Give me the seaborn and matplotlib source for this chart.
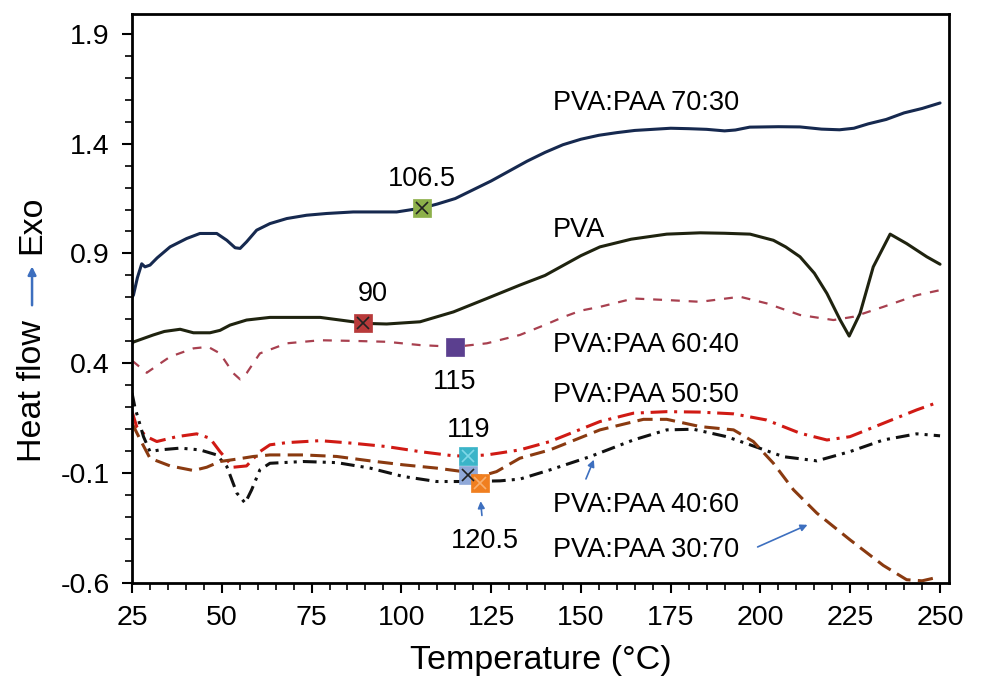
import matplotlib
matplotlib.use("Agg")
import matplotlib.pyplot as plt
import seaborn as sns
import pandas as pd
from matplotlib.ticker import MultipleLocator

# ---------------- data ----------------
x_7030 = [25, 25.4, 26.5, 27.7, 28.6, 30, 32, 35.6, 40.2, 43.9, 48.6, 51.4, 53.7, 55.1, 56.9, 59.7, 63.4, 68.1,
          73.6, 79.2, 86.6, 98.7, 105.8, 110, 115, 120, 125, 130, 135, 140, 145, 150, 155, 160, 165, 170, 175,
          180, 185, 190, 193, 197, 205, 211, 217, 222, 226, 230, 235, 240, 245, 250]
y_7030 = [0.70, 0.711, 0.79, 0.853, 0.839, 0.847, 0.88, 0.93, 0.968, 0.991, 0.991, 0.960, 0.926, 0.923, 0.953,
          1.006, 1.036, 1.059, 1.074, 1.082, 1.089, 1.089, 1.107, 1.125, 1.15, 1.19, 1.23, 1.275, 1.32, 1.36,
          1.395, 1.42, 1.438, 1.45, 1.46, 1.465, 1.47, 1.468, 1.465, 1.458, 1.462, 1.475, 1.477, 1.476, 1.466,
          1.463, 1.47, 1.49, 1.51, 1.54, 1.56, 1.585]

x_pva = [25, 25.4, 30.9, 34, 38.4, 42.1, 46.7, 49.5, 52.3, 56.9, 63.4, 77.4, 86.6, 89.3, 95.9, 105.2, 114.5,
         123.8, 133, 140, 145, 150, 155.3, 164, 173.9, 183.2, 190, 197.1, 203.6, 207, 211, 215, 218.5, 222.2,
         224.7, 227.7, 231.4, 236.1, 240.7, 246.3, 250]
y_pva = [0.49, 0.497, 0.529, 0.545, 0.555, 0.539, 0.539, 0.55, 0.574, 0.597, 0.609, 0.609, 0.589, 0.582, 0.579,
         0.589, 0.634, 0.695, 0.756, 0.80, 0.845, 0.89, 0.930, 0.965, 0.988, 0.994, 0.992, 0.988, 0.96, 0.93,
         0.885, 0.81, 0.718, 0.597, 0.524, 0.626, 0.839, 0.988, 0.945, 0.885, 0.851]

x_6040 = [25, 25.4, 29.1, 32, 35.6, 42.1, 46.2, 49.5, 53.2, 55.1, 56.9, 60.6, 68.1, 77.4, 86.6, 95.9, 105.2,
          115, 123.8, 133, 140, 145, 150, 155.3, 164.6, 173.9, 183.2, 194.3, 201.7, 211, 220.3, 225.9, 234.2,
          243.5, 250]
y_6040 = [0.41, 0.407, 0.357, 0.39, 0.43, 0.468, 0.475, 0.445, 0.355, 0.327, 0.355, 0.445, 0.491, 0.505, 0.502,
          0.498, 0.483, 0.475, 0.491, 0.529, 0.575, 0.61, 0.64, 0.657, 0.695, 0.688, 0.68, 0.703, 0.673, 0.62,
          0.597, 0.612, 0.657, 0.71, 0.733]

x_5050 = [25, 26.3, 29.1, 31.9, 37.4, 43, 46.7, 49.5, 53.2, 56.9, 60.6, 63.4, 68.1, 77.4, 86.6, 95.9, 105.2,
          114.5, 118.6, 123.8, 127.5, 133, 141.4, 155.3, 164.6, 173.9, 183, 192.5, 201.7, 211, 218.5, 224.9,
          234.2, 243.5, 249]
y_5050 = [0.18, 0.112, 0.066, 0.044, 0.066, 0.079, 0.059, -0.002, -0.073, -0.067, -0.002, 0.029, 0.039, 0.048,
          0.036, 0.021, -0.002, -0.021, -0.022, -0.017, -0.008, 0.006, 0.044, 0.135, 0.173, 0.18, 0.178, 0.17,
          0.142, 0.082, 0.051, 0.066, 0.127, 0.188, 0.22]

x_4060 = [25, 25.8, 28.2, 30, 32.8, 38.4, 43.9, 48.6, 51.4, 54.2, 56.5, 58.3, 60.6, 63.4, 72.7, 82, 91.3, 100.5,
          109.8, 118.6, 127.5, 133, 141.4, 152.5, 164.6, 173.9, 181.3, 190.6, 197.1, 206.4, 215.7, 224.9, 234.2,
          243.5, 250]
y_4060 = [0.265, 0.2, 0.066, -0.002, 0.006, 0.014, 0.006, -0.017, -0.07, -0.191, -0.236, -0.176, -0.085, -0.055,
          -0.047, -0.052, -0.077, -0.115, -0.138, -0.138, -0.135, -0.127, -0.085, -0.025, 0.051, 0.097, 0.1,
          0.066, 0.029, -0.025, -0.044, -0.002, 0.051, 0.079, 0.07]

x_3070 = [25, 27.3, 30, 35.6, 42.1, 45.8, 49.5, 54.2, 58.8, 63.4, 72.7, 82, 91.3, 100.5, 109.8, 117.2, 121.9,
          126.5, 133, 141.4, 155.3, 167.4, 173.9, 183.2, 192.5, 198, 203.6, 209.2, 215.7, 224.9, 234.2, 240.7,
          245, 249]
y_3070 = [0.127, 0.052, -0.032, -0.067, -0.088, -0.073, -0.047, -0.036, -0.024, -0.017, -0.017, -0.024, -0.044,
          -0.062, -0.077, -0.093, -0.115, -0.093, -0.032, 0.006, 0.097, 0.145, 0.145, 0.112, 0.097, 0.044, -0.055,
          -0.176, -0.282, -0.403, -0.52, -0.585, -0.59, -0.575]

series_labels = ["PVA:PAA 70:30", "PVA", "PVA:PAA 60:40", "PVA:PAA 50:50", "PVA:PAA 40:60", "PVA:PAA 30:70"]
label_y = [1.583, 1.005, 0.483, 0.256, -0.244, -0.449]

# transition-point markers
mark_x = [105.8, 89.3, 115.0, 118.6, 118.6, 121.8]
mark_y = [1.107, 0.582, 0.475, -0.02, -0.11, -0.145]
mark_text = ["106.5", "90", "115", "119", "", "120.5"]
mark_text_x = [105.8, 92.1, 114.7, 118.8, None, 123.3]
mark_text_y = [1.238, 0.717, 0.315, 0.097, None, -0.408]

x_ticks = [25, 50, 75, 100, 125, 150, 175, 200, 225, 250]
y_ticks = [-0.6, -0.1, 0.4, 0.9, 1.4, 1.9]

# ---------------- plot ----------------
sns.set_theme(style="white")
plt.rcParams["font.family"] = ["Liberation Sans", "DejaVu Sans"]
plt.rcParams["text.color"] = "black"

fig = plt.figure(figsize=(9.86, 6.83), dpi=100)
ax = fig.add_axes([0.1339, 0.1464, 0.8286, 0.8331])

styles = [
    (x_7030, y_7030, "#16294f", 2.2, "-"),
    (x_pva, y_pva, "#1f230f", 2.2, "-"),
    (x_6040, y_6040, "#a8404f", 1.6, (0, (4, 4))),
    (x_5050, y_5050, "#d01a14", 2.2, (0, (5.5, 2.2, 1, 2.2))),
    (x_4060, y_4060, "#111111", 2.2, (0, (4.5, 2, 1, 2, 1, 2))),
    (x_3070, y_3070, "#8a3a10", 2.2, (0, (5, 2.4))),
]
for xs, ys, c, lw, ls in styles:
    df = pd.DataFrame({"T": xs, "H": ys})
    sns.lineplot(data=df, x="T", y="H", ax=ax, color=c, lw=lw, linestyle=ls,
                 sort=False, estimator=None, legend=False)

# markers
mcolors = ["#8db04a", "#b83a3a", "#5b3f8f", "#3bb4c8", "#8fa8d8", "#f07f20"]
xcolors = ["#222222", "#222222", None, "#7fd8e8", "#222222", "#f8b070"]
mdf = pd.DataFrame({"T": mark_x, "H": mark_y, "c": mcolors})
for i in range(len(mark_x)):
    sub = mdf.iloc[[i]]
    sns.scatterplot(data=sub, x="T", y="H", ax=ax, marker="s", s=150, color=mcolors[i],
                    edgecolor=mcolors[i], linewidth=0.5, zorder=5, legend=False)
    if xcolors[i] is not None:
        ax.plot(mark_x[i], mark_y[i], marker="x", ms=9, mew=1.2, color=xcolors[i], zorder=6)

fs = 19.5
for t, tx, ty in zip(mark_text, mark_text_x, mark_text_y):
    if t:
        ax.text(tx, ty, t, ha="center", va="center", fontsize=fs, color="black")

for lab, ly in zip(series_labels, label_y):
    ax.text(142.2, ly, lab, ha="left", va="center", fontsize=fs, color="black")

arrow_kw = dict(arrowstyle="-|>", color="#3d6fbf", lw=1.2, mutation_scale=10)
ax.annotate("", xy=(122.0, -0.215), xytext=(122.5, -0.305), arrowprops=arrow_kw)
ax.annotate("", xy=(153.9, -0.027), xytext=(151.1, -0.138), arrowprops=arrow_kw)
ax.annotate("", xy=(213.8, -0.330), xytext=(198.5, -0.441), arrowprops=arrow_kw)

ax.set_xlim(25, 252.5)
ax.set_ylim(-0.6, 1.99)
ax.set_xticks(x_ticks)
ax.set_yticks(y_ticks)
ax.set_yticklabels([f"{v:.1f}" for v in y_ticks])
ax.xaxis.set_minor_locator(MultipleLocator(5))
ax.yaxis.set_minor_locator(MultipleLocator(0.1))
ax.tick_params(axis="both", which="major", direction="out", length=7, width=1.5,
               labelsize=20.5, pad=9, colors="black", bottom=True, left=True)
ax.tick_params(axis="both", which="minor", direction="out", length=5, width=1.2,
               bottom=True, left=True, colors="black")
for sp in ax.spines.values():
    sp.set_visible(True)
    sp.set_color("black")
    sp.set_linewidth(2)
ax.set_xlabel("")
ax.set_ylabel("")

fig.text(0.548, 0.033, "Temperature (°C)", ha="center", va="center", fontsize=24.5, color="black")
fig.text(0.0325, 0.4275, "Heat flow", rotation=90, ha="center", va="center", fontsize=24.5, color="black")
fig.text(0.0325, 0.6706, "Exo", rotation=90, ha="center", va="center", fontsize=24.5, color="black")
fig.patches.append(matplotlib.patches.FancyArrowPatch(
    (0.0325, 0.549), (0.0325, 0.614), transform=fig.transFigure, arrowstyle="-|>",
    color="#3d6fbf", lw=1.8, mutation_scale=12))

fig.savefig("out.png", dpi=100)
